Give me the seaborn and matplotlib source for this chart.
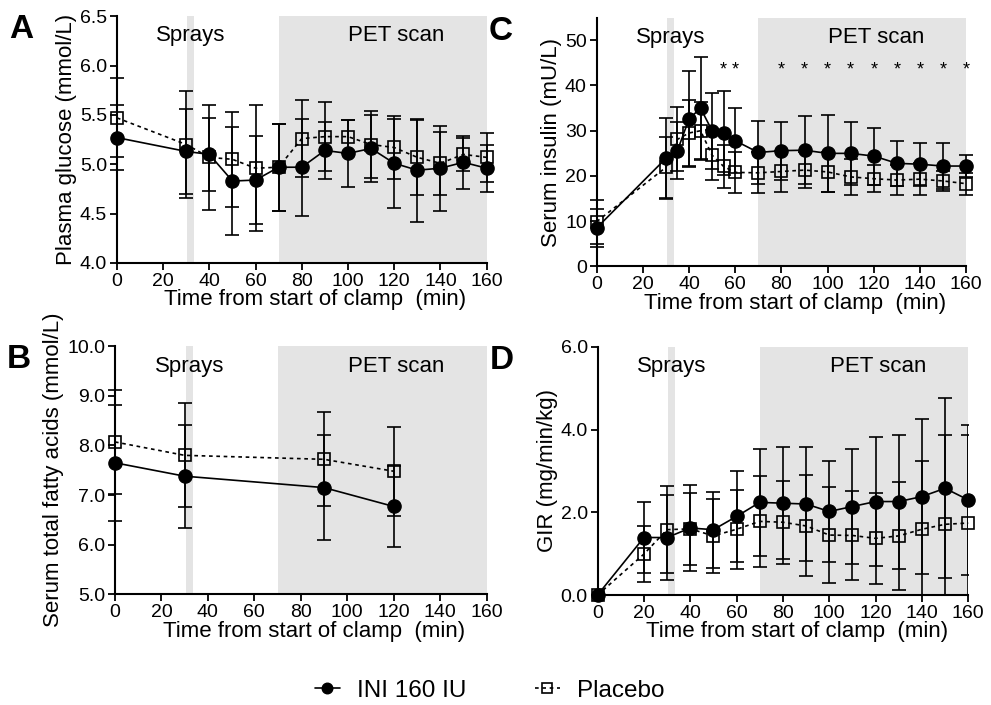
import numpy as np
import pandas as pd
import matplotlib
matplotlib.use("Agg")
import matplotlib.pyplot as plt
import seaborn as sns

# ---------------- data ----------------
groups = ["INI 160 IU", "Placebo"]

# Panel A: plasma glucose (mmol/L)
glucose_time = [0, 30, 40, 50, 60, 70, 80, 90, 100, 110, 120, 130, 140, 150, 160]
glucose_ini = [5.27, 5.13, 5.10, 4.83, 4.84, 4.97, 4.97, 5.14, 5.11, 5.16, 5.01, 4.94, 4.96, 5.02, 4.96]
glucose_ini_sd = [0.33, 0.43, 0.37, 0.55, 0.45, 0.44, 0.49, 0.29, 0.34, 0.34, 0.45, 0.52, 0.43, 0.27, 0.24]
glucose_pla = [5.47, 5.20, 5.07, 5.05, 4.96, 4.97, 5.26, 5.28, 5.28, 5.20, 5.17, 5.07, 5.01, 5.10, 5.07]
glucose_pla_sd = [0.40, 0.54, 0.53, 0.48, 0.64, 0.44, 0.39, 0.35, 0.17, 0.34, 0.32, 0.38, 0.32, 0.17, 0.25]

# Panel B: serum total fatty acids (mmol/L)
ffa_time = [0, 30, 90, 120]
ffa_ini = [7.65, 7.38, 7.15, 6.77]
ffa_ini_sd = [1.17, 1.04, 1.05, 0.82]
ffa_pla = [8.07, 7.80, 7.72, 7.48]
ffa_pla_sd = [1.04, 1.05, 0.95, 0.90]

# Panel C: serum insulin (mU/L)
ins_time = [0, 30, 35, 40, 45, 50, 55, 60, 70, 80, 90, 100, 110, 120, 130, 140, 150, 160]
ins_ini = [8.5, 23.9, 25.6, 32.6, 35.0, 30.0, 29.5, 27.8, 25.2, 25.6, 25.7, 25.0, 25.0, 24.4, 22.8, 22.6, 22.2, 22.2]
ins_ini_sd = [4.1, 8.9, 6.3, 10.7, 11.3, 8.4, 9.2, 7.2, 7.0, 6.4, 7.5, 8.5, 6.9, 6.3, 5.0, 4.8, 5.1, 2.5]
ins_pla = [9.9, 21.9, 28.1, 29.5, 30.0, 24.6, 22.1, 20.8, 20.7, 21.0, 21.3, 20.9, 19.8, 19.4, 19.1, 19.3, 18.9, 18.3]
ins_pla_sd = [4.9, 6.8, 7.1, 7.2, 6.4, 5.5, 4.8, 4.6, 4.5, 4.5, 4.0, 4.5, 4.0, 3.0, 3.4, 3.5, 2.2, 2.4]
ins_sig_time = [55, 60, 80, 90, 100, 110, 120, 130, 140, 150, 160]

# Panel D: glucose infusion rate (mg/min/kg)
gir_time = [0, 20, 30, 40, 50, 60, 70, 80, 90, 100, 110, 120, 130, 140, 150, 160]
gir_ini = [0.0, 1.39, 1.39, 1.62, 1.58, 1.90, 2.24, 2.22, 2.20, 2.02, 2.14, 2.26, 2.26, 2.38, 2.58, 2.30]
gir_ini_sd = [0.0, 0.86, 1.02, 1.05, 0.92, 1.10, 1.30, 1.36, 1.37, 1.23, 1.40, 1.56, 1.62, 1.88, 2.18, 1.82]
gir_pla = [0.0, 0.99, 1.58, 1.60, 1.43, 1.59, 1.78, 1.76, 1.67, 1.45, 1.44, 1.37, 1.43, 1.59, 1.71, 1.74]
gir_pla_sd = [0.0, 0.67, 1.05, 0.87, 0.89, 0.95, 1.10, 1.00, 1.22, 1.16, 1.08, 1.10, 1.30, 1.65, 2.16, 2.13]

spray_window = (30.5, 33.5)
pet_window = (70, 160)

# ---------------- style ----------------
sns.set_theme(style="ticks")
plt.rcParams["font.family"] = ["Liberation Sans", "DejaVu Sans"]
plt.rcParams.update({
    "axes.linewidth": 1.5,
    "xtick.major.width": 1.3,
    "ytick.major.width": 1.3,
    "xtick.major.size": 5,
    "ytick.major.size": 5,
    "xtick.labelsize": 14,
    "ytick.labelsize": 14,
    "axes.labelsize": 16,
    "xtick.color": "black",
    "ytick.color": "black",
    "axes.edgecolor": "black",
    "text.color": "black",
    "axes.labelcolor": "black",
})

fig = plt.figure(figsize=(9.91, 7.05), dpi=100)

rects = {
    "A": [0.118, 0.627, 0.373, 0.350],
    "C": [0.602, 0.622, 0.373, 0.353],
    "B": [0.116, 0.157, 0.375, 0.352],
    "D": [0.603, 0.156, 0.374, 0.352],
}

panels = {
    "A": dict(t=glucose_time, ini=glucose_ini, ini_sd=glucose_ini_sd, pla=glucose_pla, pla_sd=glucose_pla_sd,
              ylim=(4.0, 6.5), yticks=np.arange(4.0, 6.51, 0.5), fmt="{:.1f}",
              ylabel="Plasma glucose (mmol/L)", clip=False),
    "B": dict(t=ffa_time, ini=ffa_ini, ini_sd=ffa_ini_sd, pla=ffa_pla, pla_sd=ffa_pla_sd,
              ylim=(5.0, 10.0), yticks=np.arange(5.0, 10.01, 1.0), fmt="{:.1f}",
              ylabel="Serum total fatty acids (mmol/L)", clip=False),
    "C": dict(t=ins_time, ini=ins_ini, ini_sd=ins_ini_sd, pla=ins_pla, pla_sd=ins_pla_sd,
              ylim=(0, 55), yticks=np.arange(0, 51, 10), fmt="{:.0f}",
              ylabel="Serum insulin (mU/L)", clip=False),
    "D": dict(t=gir_time, ini=gir_ini, ini_sd=gir_ini_sd, pla=gir_pla, pla_sd=gir_pla_sd,
              ylim=(0, 6.0), yticks=np.arange(0, 6.01, 2.0), fmt="{:.1f}",
              ylabel="GIR (mg/min/kg)", clip=True),
}

handles = None
for key, p in panels.items():
    ax = fig.add_axes(rects[key])
    df = pd.DataFrame({
        "time": list(p["t"]) * 2,
        "value": list(p["ini"]) + list(p["pla"]),
        "sd": list(p["ini_sd"]) + list(p["pla_sd"]),
        "group": [groups[0]] * len(p["t"]) + [groups[1]] * len(p["t"]),
    })

    # shaded windows
    ax.axvspan(*spray_window, color="#e4e4e4", lw=0, zorder=0)
    ax.axvspan(*pet_window, color="#e4e4e4", lw=0, zorder=0)

    # error bars
    for g in groups:
        sub = df[df["group"] == g]
        ax.errorbar(sub["time"], sub["value"], yerr=sub["sd"], fmt="none",
                    ecolor="black", elinewidth=1.2, capsize=4.8, capthick=1.2,
                    zorder=2, clip_on=p["clip"])

    # lines + markers
    sns.lineplot(data=df[df["group"] == groups[0]], x="time", y="value", ax=ax,
                 color="black", marker="o", markersize=9.5, markerfacecolor="black",
                 markeredgecolor="black", markeredgewidth=1.0, linewidth=1.2,
                 linestyle="-", label=groups[0], legend=False, errorbar=None,
                 zorder=4, clip_on=False)
    sns.lineplot(data=df[df["group"] == groups[1]], x="time", y="value", ax=ax,
                 color="black", marker="s", markersize=8.5, markerfacecolor="none",
                 markeredgecolor="black", markeredgewidth=1.2, linewidth=1.2,
                 linestyle=(0, (2.2, 2.2)), label=groups[1], legend=False, errorbar=None,
                 zorder=3, clip_on=False)

    ax.set_xlim(0, 160)
    ax.set_ylim(*p["ylim"])
    ax.set_xticks(np.arange(0, 161, 20))
    ax.set_yticks(p["yticks"])
    ax.set_yticklabels([p["fmt"].format(v) for v in p["yticks"]])
    ax.set_xlabel("Time from start of clamp  (min)", labelpad=0)
    ax.xaxis.set_label_coords(0.537, -0.106)
    ax.set_ylabel(p["ylabel"], labelpad=2)
    ax.tick_params(axis="both", direction="out", pad=2)
    for s in ["top", "right"]:
        ax.spines[s].set_visible(False)
    ax.set_facecolor("white")

    tr = ax.get_xaxis_transform()
    ax.text(32, 0.92, "Sprays", transform=tr, ha="center", va="center", fontsize=16, zorder=5)
    ax.text(121, 0.92, "PET scan", transform=tr, ha="center", va="center", fontsize=16, zorder=5)

    if key == "C":
        for t in ins_sig_time:
            ax.text(t, 43.5, "*", ha="center", va="center", fontsize=13)

    fig.text(rects[key][0] - 0.097, rects[key][1] + rects[key][3] - 0.019, key,
             fontsize=24, fontweight="bold", ha="center", va="center")

    if handles is None:
        handles, labels = ax.get_legend_handles_labels()

fig.legend(handles, labels, loc="center", bbox_to_anchor=(0.494, 0.02), ncol=2,
           frameon=False, fontsize=17.5, handlelength=1.05, handletextpad=0.7,
           columnspacing=2.8, markerscale=0.8)

fig.savefig("out.png", dpi=100)
